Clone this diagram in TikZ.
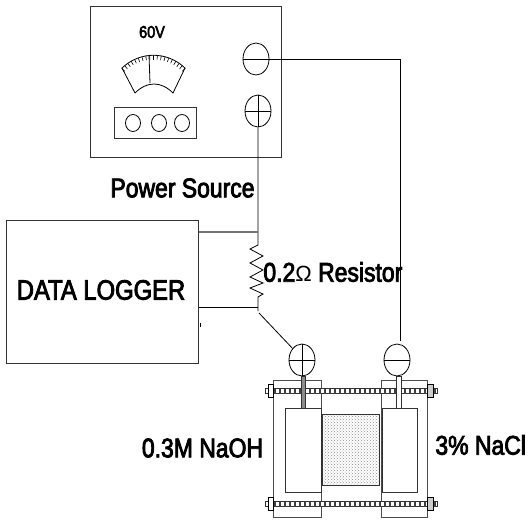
\documentclass[tikz,border=0pt]{standalone}
\usepackage{fontspec}
\setmainfont{Liberation Sans}
\newfontfamily\labelfont[FakeBold=3,FakeStretch=0.85]{Liberation Sans}
\usetikzlibrary{arrows,shapes,positioning,calc,patterns}

\begin{document}
\begin{tikzpicture}[
    x=1pt, y=-1pt,
    line width=0.8pt,
    box/.style={draw, black!80, rectangle, inner sep=0pt, anchor=north west},
    terminal/.style={draw, ellipse, inner sep=0pt, minimum width=26pt, minimum height=32pt},
    knob/.style={draw, ellipse, inner sep=0pt, minimum width=15pt, minimum height=17pt},
    biglabel/.style={inner sep=0pt, font=\labelfont\fontsize{27}{29}\selectfont}
]
\useasboundingbox (0,0) rectangle (530,520);

% Power supply
\node (source) [box, minimum width=191pt, minimum height=151pt] at (90,6) {};
\node (volts) [inner sep=0pt, font=\labelfont\fontsize{17}{19}\selectfont] at (152,32) {60V};
\node (panel) [box, minimum width=82pt, minimum height=31pt] at (114,107) {};
\node (knob1) [knob] at (133,123) {};
\node (knob2) [knob] at (159,123) {};
\node (knob3) [knob] at (182,123) {};
\node (powerminus) [terminal] at (256,59) {};
\node (powerplus) [terminal] at (258,111) {};

% Meter
\draw (135,93) -- (122,68) .. controls (140,51) and (167,51) .. (185,68) -- (173,93)
    .. controls (161,81) and (147,81) .. (135,93);
\draw (150,83) -- (149,55);
\foreach \a in {45,50,...,135}
    \draw[line width=0.6pt] ({153.5+45*cos(\a)},{100-45*sin(\a)}) -- ({153.5+40.5*cos(\a)},{100-40.5*sin(\a)});

% Data logger and resistor
\node (logger) [box, minimum width=192pt, minimum height=143pt] at (6,220) {};
\node (loggertext) [biglabel, font=\labelfont\fontsize{28}{30}\selectfont] at (101,290) {DATA LOGGER};
\node (sourcetext) [biglabel] at (182.5,188) {Power Source};
\node (restext) [biglabel, anchor=west] at (263,272) {0.2{\rmfamily\fontsize{22}{24}\selectfont Ω} Resistor};
\coordinate (tapup) at (258,232);
\coordinate (restop) at (258,245);
\coordinate (resbot) at (258,297);
\coordinate (taplow) at (258,307);
\coordinate (resend) at (258,311);
\coordinate (wirestart) at (259,313);
\coordinate (wireend) at (400.5,341);

% Cell
\foreach \x/\w in {273/48,381/46}
    \draw[black!70, fill=white] (\x,380) rectangle ++(\w,137);
\node (cellleft) [box, minimum width=36pt, minimum height=84pt] at (285,408) {};
\node (cellright) [box, minimum width=35pt, minimum height=84pt] at (382,408) {};
\node (membrane) [box, fill=black!8, pattern=crosshatch dots, pattern color=black!45, minimum width=57pt, minimum height=71pt] at (322,414) {};
\foreach \y in {391,504} {
    \draw[black!80, fill=white] (265,\y-2.5) rectangle (437,\y+2.5);
    \foreach \x in {270,275,...,435}
        \draw[line width=1.1pt, black!75] (\x,\y-2.5) -- (\x,\y+2.5);
    \draw[fill=white] (268,\y-6.5) rectangle (273,\y+6.5);
    \draw[fill=black!20] (427,\y-6.5) rectangle (433,\y+6.5);
}
\draw[black!80, fill=black!45] (301,376) rectangle (305,408);
\draw[black!80, fill=white] (396,376) rectangle (401,408);
\node (cellplus) [terminal, fill=white] at (302,360) {};
\node (cellminus) [terminal, fill=white] at (397,360) {};
\node (naoh) [biglabel] at (202.5,448) {0.3M NaOH};
\node (nacl) [biglabel, anchor=west] at (435,445) {3\% NaCl};

% Terminal marks
\foreach \t in {powerminus,powerplus,cellplus,cellminus}
    \draw (\t.west) -- (\t.east);
\foreach \t in {powerplus,cellplus}
    \draw (\t.north) -- (\t.south);

% Wires
\draw (powerminus.east) -| (wireend);
\draw (powerplus.south) -- (restop) -- (250,249) -- (263,256) -- (250,263) -- (263,270)
    -- (250,277) -- (263,283) -- (250,288) -- (263,294) -- (resbot) -- (resend);
\draw[line width=1.3pt, black!55] (logger.east |- tapup) -- (tapup);
\draw (logger.east |- taplow) -- (taplow);
\draw (wirestart) -- (cellplus.north west);
\draw (200,323) -- (200,327);

\end{tikzpicture}
\end{document}
